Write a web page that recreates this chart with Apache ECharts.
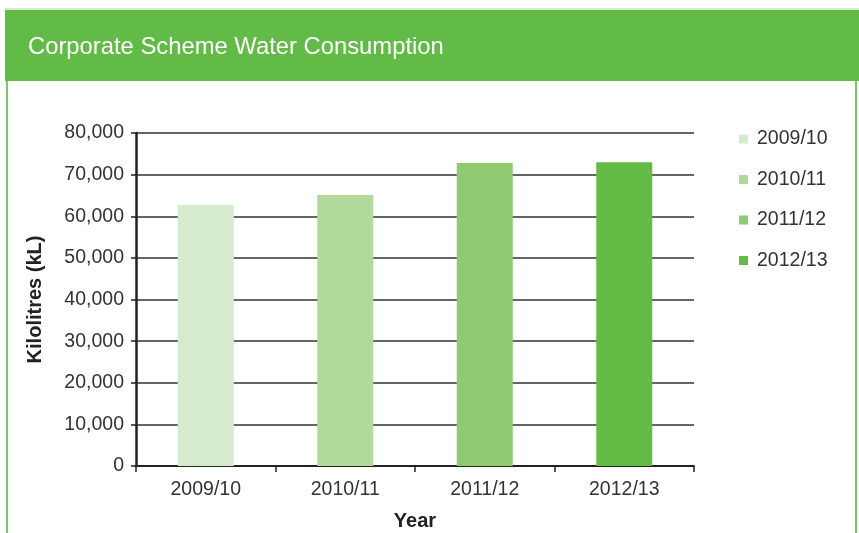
<!DOCTYPE html>
<html><head><meta charset="utf-8">
<script src="https://cdn.jsdelivr.net/npm/echarts@6/dist/echarts.min.js"></script>
<style>html,body{margin:0;padding:0;background:#fff}#c{width:859px;height:533px}</style>
</head><body><div id="c"></div>
<script>
const categories = ['2009/10', '2010/11', '2011/12', '2012/13'];
const values = [62700, 65100, 72800, 73000];
const colors = ['#d6eacd', '#b1d99b', '#8fc971', '#63bb46'];
const yTicks = [0, 10000, 20000, 30000, 40000, 50000, 60000, 70000, 80000];

const chart = echarts.init(document.getElementById('c'));
const font = 'Liberation Sans, Arial, sans-serif';
const series = categories.map((c, i) => ({
  name: c,
  type: 'bar',
  stack: 'all',
  barWidth: 56,
  itemStyle: { color: colors[i] },
  data: categories.map((_, j) => j === i ? values[i] : '-')
}));
chart.setOption({
  animation: false,
  textStyle: { fontFamily: font },
  graphic: [
    { type: 'rect', shape: { x: 5, y: 10, width: 854, height: 71 }, style: { fill: '#62bb46' } },
    { type: 'rect', shape: { x: 5, y: 8, width: 854, height: 2 }, style: { fill: '#d9e9d2' } },
    { type: 'rect', shape: { x: 6, y: 81, width: 2, height: 452 }, style: { fill: '#7cc563' } },
    { type: 'rect', shape: { x: 855, y: 81, width: 2, height: 452 }, style: { fill: '#7cc563' } },
    { type: 'text', left: 28, top: 35, style: { text: 'Corporate Scheme Water Consumption', fill: '#ffffff', font: '23.8px ' + font } }
  ],
  legend: {
    orient: 'vertical',
    left: 734, top: 124,
    itemWidth: 9, itemHeight: 9,
    itemGap: 20.5,
    icon: 'rect',
    textStyle: { fontSize: 19.5, color: '#333', fontFamily: font, padding: [0, 0, 0, 4] },
    data: categories
  },
  grid: { left: 136, right: 165, top: 133, bottom: 67, containLabel: false, outerBoundsMode: 'none' },
  xAxis: {
    type: 'category',
    data: categories,
    name: 'Year',
    nameLocation: 'middle',
    nameGap: 45,
    nameTextStyle: { fontSize: 20, fontWeight: 'bold', color: '#222', fontFamily: font },
    axisLine: { lineStyle: { color: '#222', width: 2 } },
    axisTick: { show: true, alignWithLabel: false, length: 6, lineStyle: { color: '#222', width: 1.5 } },
    axisLabel: { fontSize: 19.5, color: '#333', margin: 14, fontFamily: font }
  },
  yAxis: {
    type: 'value',
    min: 0, max: 80000, interval: 10000,
    name: 'Kilolitres (kL)',
    nameLocation: 'middle',
    nameGap: 91,
    nameTextStyle: { fontSize: 20, fontWeight: 'bold', color: '#222', fontFamily: font },
    axisLine: { show: true, lineStyle: { color: '#222', width: 2.5 } },
    axisTick: { show: true, length: 5, lineStyle: { color: '#222', width: 1.5 } },
    axisLabel: { fontSize: 19.5, color: '#333', margin: 12, fontFamily: font,
      formatter: v => yTicks.includes(v) ? v.toLocaleString('en-US') : '' },
    splitLine: { lineStyle: { color: '#333', width: 1.5 } }
  },
  series: series
});
</script></body></html>
